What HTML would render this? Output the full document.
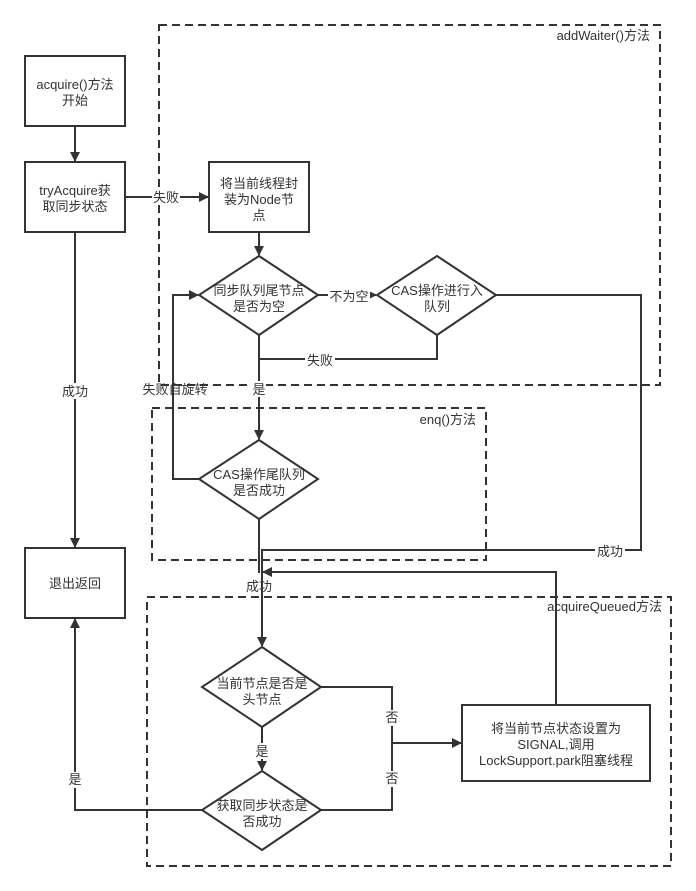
<!DOCTYPE html>
<html><head><meta charset="utf-8"><style>
html,body{margin:0;padding:0;background:#fff;}
svg{display:block;}
text{font-family:"Liberation Sans","Noto Sans CJK SC",sans-serif;font-size:13px;fill:#333;}
</style></head><body>
<svg width="696" height="891" viewBox="0 0 696 891" xmlns="http://www.w3.org/2000/svg">
<defs>
<marker id="a" markerWidth="10" markerHeight="10" refX="9" refY="5" orient="auto" markerUnits="userSpaceOnUse">
<path d="M0,0 L10,5 L0,10 z" fill="#333"/>
</marker>
</defs>
<g fill="none" stroke="#333" stroke-width="2" stroke-dasharray="8,5">
<rect x="159" y="25" width="501" height="360"/>
<rect x="152" y="408" width="334" height="152"/>
<rect x="147" y="597" width="524" height="269"/>
</g>
<g fill="#fff" stroke="#333" stroke-width="2">
<rect x="25" y="56" width="100" height="70"/>
<rect x="25" y="162" width="100" height="70"/>
<rect x="209" y="162" width="100" height="70"/>
<rect x="25" y="548" width="100" height="70"/>
<rect x="462" y="705" width="188" height="76"/>
<polygon points="259,256 318,295 259,335 199,295"/>
<polygon points="437,256 496,295 437,335 377,295"/>
<polygon points="259,440 318,479 259,519 199,479"/>
<polygon points="262,647 321,687 262,727 202,687"/>
<polygon points="262,771 321,810 262,850 202,810"/>
</g>
<g fill="none" stroke="#333" stroke-width="2">
<line x1="75" y1="126" x2="75" y2="161" marker-end="url(#a)"/>
<line x1="125" y1="197" x2="208" y2="197" marker-end="url(#a)"/>
<line x1="259" y1="232" x2="259" y2="255" marker-end="url(#a)"/>
<line x1="318" y1="295" x2="376" y2="295" marker-end="url(#a)"/>
<polyline points="496,295 641,295 641,550 262,550 262,646" marker-end="url(#a)"/>
<polyline points="437,335 437,359 259,359"/>
<line x1="259" y1="335" x2="259" y2="439" marker-end="url(#a)"/>
<polyline points="199,479 173,479 173,295 198,295" marker-end="url(#a)"/>
<polyline points="259,519 259,573"/>
<polyline points="556,705 556,572 263,572" marker-end="url(#a)"/>
<line x1="75" y1="232" x2="75" y2="547" marker-end="url(#a)"/>
<polyline points="321,687 392,687 392,810 321,810"/>
<line x1="392" y1="743" x2="461" y2="743" marker-end="url(#a)"/>
<line x1="262" y1="727" x2="262" y2="770" marker-end="url(#a)"/>
<polyline points="202,810 75,810 75,619" marker-end="url(#a)"/>
</g>
<g fill="#fff">
<rect x="152" y="189" width="28" height="16"/>
<rect x="328" y="288" width="42" height="16"/>
<rect x="305" y="352" width="30" height="16"/>
<rect x="60" y="383" width="30" height="16"/>
<rect x="252" y="381" width="14" height="16"/>
<rect x="595" y="543" width="30" height="16"/>
<rect x="385" y="710" width="14" height="16"/>
<rect x="385" y="771" width="14" height="16"/>
<rect x="255" y="743" width="14" height="16"/>
<rect x="68" y="772" width="14" height="16"/>
</g>
<g text-anchor="middle">
<text x="75" y="89">acquire()方法</text>
<text x="75" y="105">开始</text>
<text x="75" y="195">tryAcquire获</text>
<text x="75" y="211">取同步状态</text>
<text x="259" y="188">将当前线程封</text>
<text x="259" y="204">装为Node节</text>
<text x="259" y="220">点</text>
<text x="259" y="295">同步队列尾节点</text>
<text x="259" y="311">是否为空</text>
<text x="437" y="295">CAS操作进行入</text>
<text x="437" y="311">队列</text>
<text x="259" y="479">CAS操作尾队列</text>
<text x="259" y="495">是否成功</text>
<text x="262" y="688">当前节点是否是</text>
<text x="262" y="704">头节点</text>
<text x="262" y="810">获取同步状态是</text>
<text x="262" y="826">否成功</text>
<text x="75" y="588">退出返回</text>
<text x="556" y="733">将当前节点状态设置为</text>
<text x="556" y="749">SIGNAL,调用</text>
<text x="556" y="765">LockSupport.park阻塞线程</text>
<text x="166" y="202">失败</text>
<text x="349" y="301">不为空</text>
<text x="320" y="365">失败</text>
<text x="75" y="396">成功</text>
<text x="175" y="394">失败自旋转</text>
<text x="259" y="394">是</text>
<text x="610" y="556">成功</text>
<text x="259" y="591">成功</text>
<text x="392" y="722">否</text>
<text x="392" y="783">否</text>
<text x="262" y="756">是</text>
<text x="75" y="784">是</text>
</g>
<g text-anchor="end">
<text x="650" y="40">addWaiter()方法</text>
<text x="476" y="424">enq()方法</text>
<text x="662" y="611">acquireQueued方法</text>
</g>
</svg>
</body></html>
